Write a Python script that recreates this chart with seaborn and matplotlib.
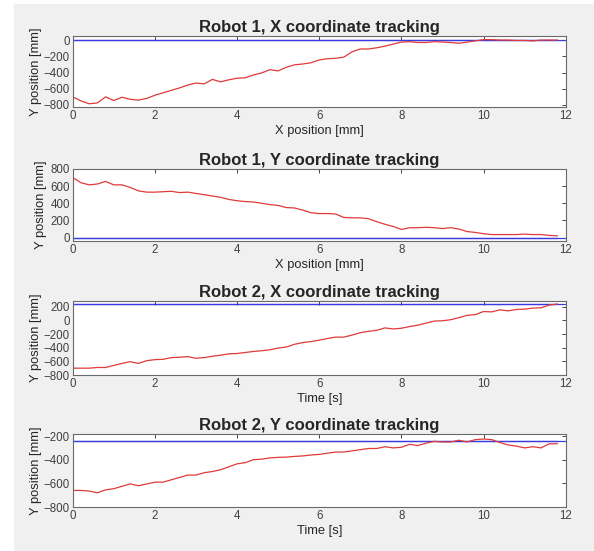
"""Robot tracking figure: reference vs measured position, four panels."""
import matplotlib
matplotlib.use("Agg")
import matplotlib.pyplot as plt
import numpy as np
import pandas as pd
import seaborn as sns

# sample times (s), 0.2 s step
time = [round(0.2 * i, 1) for i in range(60)]

# measured positions [mm]
r1_x = [-700, -750, -785, -775, -700, -745, -705, -730, -740, -720,
        -680, -650, -620, -590, -555, -530, -540, -485, -515, -490,
        -470, -465, -430, -405, -365, -380, -335, -305, -295, -280,
        -245, -230, -225, -210, -145, -110, -110, -95, -75, -50,
        -25, -20, -30, -30, -20, -25, -30, -40, -25, -10,
        5, 5, 0, 0, -5, -5, -10, 0, 0, 0]
r1_y = [700, 640, 615, 625, 655, 615, 615, 585, 545, 530,
        530, 535, 540, 525, 530, 515, 500, 485, 470, 445,
        430, 420, 415, 400, 385, 375, 350, 345, 320, 290,
        280, 280, 275, 235, 230, 230, 220, 185, 155, 130,
        95, 115, 115, 120, 115, 105, 115, 100, 70, 60,
        45, 35, 35, 35, 35, 40, 35, 35, 25, 20]
r2_x = [-700, -700, -700, -690, -690, -660, -630, -605, -630, -590,
        -575, -570, -545, -540, -530, -555, -545, -525, -510, -490,
        -485, -470, -455, -445, -430, -405, -390, -350, -325, -310,
        -290, -265, -245, -245, -215, -180, -160, -145, -110, -125,
        -115, -90, -70, -40, -10, -5, 10, 40, 75, 85,
        130, 125, 155, 140, 160, 165, 180, 185, 225, 240]
r2_y = [-660, -660, -665, -680, -655, -645, -625, -605, -620, -605,
        -590, -590, -570, -550, -530, -530, -510, -500, -485, -460,
        -435, -425, -400, -395, -385, -380, -378, -372, -368, -360,
        -355, -345, -335, -335, -325, -315, -305, -305, -290, -300,
        -295, -270, -280, -260, -245, -250, -250, -235, -250, -230,
        -225, -230, -255, -275, -285, -300, -290, -300, -265, -265]

# reference (target) positions [mm]
targets = [0, 0, 240, -240]

titles = ["Robot 1, X coordinate tracking", "Robot 1, Y coordinate tracking",
          "Robot 2, X coordinate tracking", "Robot 2, Y coordinate tracking"]
xlabels = ["X position [mm]", "X position [mm]", "Time [s]", "Time [s]"]
ylabel = "Y position [mm]"
ylims = [(-825, 50), (-40, 800), (-800, 280), (-800, -185)]
yticks = [np.arange(-800, 1, 200), np.arange(0, 801, 200),
          np.arange(-800, 201, 200), np.arange(-800, -199, 200)]
xticks = np.arange(0, 13, 2)

sns.set_style("white")
plt.rcParams["font.family"] = ["Liberation Sans", "DejaVu Sans"]
plt.rcParams.update({
    "xtick.direction": "in",
    "ytick.direction": "in",
    "xtick.top": True,
    "ytick.right": True,
    "xtick.major.size": 3,
    "ytick.major.size": 3,
    "xtick.major.width": 0.6,
    "ytick.major.width": 0.6,
    "xtick.color": "#262626",
    "ytick.color": "#262626",
    "xtick.labelcolor": "#404040",
    "ytick.labelcolor": "#404040",
    "xtick.labelsize": 8.3,
    "ytick.labelsize": 8.3,
    "axes.edgecolor": "#6a6a6a",
    "axes.linewidth": 0.8,
})

fig = plt.figure(figsize=(5.94, 5.51), dpi=100, facecolor="white")
# MATLAB-like grey figure panel
fig.add_artist(plt.Rectangle((14 / 594, 0), 1, 1 - 4 / 551,
                             transform=fig.transFigure, color="#f0f0f0",
                             zorder=-10))

left, width = 72.7 / 594, 493 / 594
boxes = [(36, 107), (169, 241), (301.3, 375), (434.3, 507)]
ylabel_x = [-0.062, -0.053, -0.062, -0.062]

series = [r1_x, r1_y, r2_x, r2_y]
for i, (top, bot) in enumerate(boxes):
    ax = fig.add_axes([left, 1 - bot / 551, width, (bot - top) / 551])
    df = pd.DataFrame({"time": time, "measured": series[i]})
    df["target"] = targets[i]
    sns.lineplot(data=df, x="time", y="target", ax=ax, color="#3a3ae0",
                 linewidth=0.9)
    sns.lineplot(data=df, x="time", y="measured", ax=ax, color="#e03a3a",
                 linewidth=0.9)
    ax.axhline(targets[i], color="#3a3ae0", linewidth=0.9, zorder=1)
    ax.set_xlim(0, 12)
    ax.set_ylim(*ylims[i])
    ax.set_xticks(xticks)
    ax.set_yticks(yticks[i])
    ax.tick_params(pad=2)
    ax.set_title(titles[i], fontsize=12, fontweight="bold", pad=3)
    ax.set_xlabel(xlabels[i], fontsize=9.3, color="#262626", labelpad=2)
    ax.set_ylabel(ylabel, fontsize=9.3, color="#262626")
    ax.yaxis.set_label_coords(ylabel_x[i], 0.5)
    ax.set_facecolor("white")

fig.savefig("out.png", dpi=100, facecolor=fig.get_facecolor())
